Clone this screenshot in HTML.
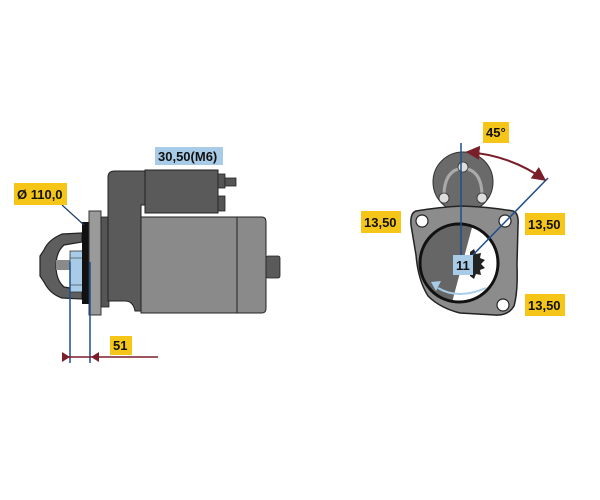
<!DOCTYPE html>
<html><head><meta charset="utf-8"><style>
html,body{margin:0;padding:0;background:#fff;width:600px;height:500px;overflow:hidden}
text{font-family:"Liberation Sans",Arial,sans-serif;font-weight:bold;font-size:13px;fill:#111}
</style></head><body>
<svg width="600" height="500" viewBox="0 0 600 500" xmlns="http://www.w3.org/2000/svg">
<defs>
<marker id="ar" viewBox="0 0 10 10" refX="9" refY="5" markerWidth="7" markerHeight="7" orient="auto-start-reverse"><path d="M0,0 L10,5 L0,10 z" fill="#7a1f2a"/></marker>
</defs>
<!-- LEFT VIEW -->
<path d="M82,233 L62,234 Q48,240 44,250 L40,256 L40,276 L44,282 Q50,294 62,298 L82,299 L82,290 L64,287 Q56,280 56,266 Q56,252 64,245 L82,242 Z" fill="#5e5e5e" stroke="#222" stroke-width="1.2"/>
<rect x="56" y="260" width="16" height="10" fill="#8a8a8a"/>
<rect x="70" y="251" width="13" height="41" fill="#a8cce8" stroke="#333" stroke-width="0.8"/>
<line x1="70" y1="258" x2="83" y2="258" stroke="#333" stroke-width="0.6"/>
<line x1="70" y1="285" x2="83" y2="285" stroke="#333" stroke-width="0.6"/>
<rect x="82" y="222" width="7" height="82" fill="#111"/>
<rect x="89" y="211" width="12" height="104" fill="#9a9a9a" stroke="#333" stroke-width="1"/>
<rect x="101" y="217" width="8" height="90" fill="#555" stroke="#222" stroke-width="0.8"/>
<path d="M108,177 Q108,171 115,171 L145,171 L145,205 L141,205 L141,311 L135,311 Q133,301 125,301 L108,301 Z" fill="#5a5a5a" stroke="#222" stroke-width="1"/>
<rect x="145" y="170" width="73" height="43" fill="#5a5a5a" stroke="#222" stroke-width="1"/>
<rect x="218" y="174" width="7" height="14" fill="#555" stroke="#222" stroke-width="0.8"/>
<rect x="225" y="178" width="11" height="8" fill="#555" stroke="#222" stroke-width="0.8"/>
<rect x="218" y="196" width="7" height="15" fill="#555" stroke="#222" stroke-width="0.8"/>
<rect x="141" y="217" width="96" height="96" fill="#8a8a8a" stroke="#222" stroke-width="1"/>
<path d="M237,217 L262,217 Q266,217 266,222 L266,308 Q266,313 262,313 L237,313 Z" fill="#8a8a8a" stroke="#222" stroke-width="1"/>
<rect x="266" y="256" width="14" height="22" rx="2" fill="#5a5a5a" stroke="#222" stroke-width="0.8"/>
<line x1="70" y1="262" x2="70" y2="363" stroke="#1d4f8a" stroke-width="1.5"/>
<line x1="90" y1="262" x2="90" y2="363" stroke="#1d4f8a" stroke-width="1.5"/>
<line x1="62" y1="205" x2="84" y2="225" stroke="#1d3f6a" stroke-width="1.2"/>
<line x1="63" y1="357" x2="158" y2="357" stroke="#7a1f2a" stroke-width="1.5"/>
<path d="M62,352 L70,357 L62,362 z" fill="#7a1f2a"/>
<path d="M99,352 L91,357 L99,362 z" fill="#7a1f2a"/>
<rect x="110" y="336" width="22" height="19" fill="#f5c518"/><text x="113" y="350">51</text>
<rect x="14" y="183" width="53" height="22" fill="#f5c518"/><text x="17" y="199">Ø 110,0</text>
<rect x="155" y="147" width="68" height="18" fill="#a8cce8"/><text x="158" y="161">30,50(M6)</text>
<!-- RIGHT VIEW -->
<circle cx="463" cy="182" r="30" fill="#6a6a6a" stroke="#333" stroke-width="1"/>
<path d="M444,196 Q444,170 463,168 Q482,170 482,196" fill="none" stroke="#aaa" stroke-width="3"/>
<circle cx="463" cy="167" r="5" fill="#ddd" stroke="#333" stroke-width="0.8"/>
<circle cx="444" cy="198" r="5" fill="#ddd" stroke="#333" stroke-width="0.8"/>
<circle cx="482" cy="198" r="5" fill="#ddd" stroke="#333" stroke-width="0.8"/>
<path d="M416,211 Q440,207 462,206 Q490,207 513,211 Q519,213 518,225 L517,265 Q518,292 514,306 Q508,316 495,315 L460,313 Q440,308 428,296 Q418,280 416,255 L411,225 Q410,213 416,211 Z" fill="#8c8c8c" stroke="#222" stroke-width="1.5"/>
<circle cx="422" cy="221" r="6" fill="#fff" stroke="#222" stroke-width="1.2"/>
<circle cx="505" cy="221" r="6" fill="#fff" stroke="#222" stroke-width="1.2"/>
<circle cx="503" cy="305" r="6" fill="#fff" stroke="#222" stroke-width="1.2"/>
<circle cx="459" cy="263" r="39" fill="#fff"/>
<clipPath id="cc"><circle cx="459" cy="263" r="39"/></clipPath>
<polygon points="415,220 474,220 450,310 415,310" fill="#666" clip-path="url(#cc)"/>
<circle cx="459" cy="263" r="39" fill="none" stroke="#111" stroke-width="3"/>
<path d="M470,252 l4,-3 l2,5 l5,-1 l-1,5 l5,2 l-4,4 l4,4 l-5,2 l1,5 l-5,-1 l-2,5 l-4,-3 Z" fill="#222"/>
<path d="M438,288 Q458,300 486,288" fill="none" stroke="#a8cce8" stroke-width="2"/>
<path d="M431,282 L441,281 L436,291 z" fill="#a8cce8"/>
<line x1="461" y1="143" x2="461" y2="260" stroke="#1d4f8a" stroke-width="1.5"/>
<line x1="548" y1="178" x2="468" y2="260" stroke="#1d4f8a" stroke-width="1.5"/>
<path d="M467,152 Q510,155 545,180" fill="none" stroke="#7a1f2a" stroke-width="2" marker-start="url(#ar)" marker-end="url(#ar)"/>
<rect x="453" y="255" width="20" height="20" fill="#a8cce8"/><text x="456" y="270">11</text>
<rect x="483" y="122" width="26" height="21" fill="#f5c518"/><text x="486" y="137">45°</text>
<rect x="361" y="211" width="40" height="22" fill="#f5c518"/><text x="364" y="227">13,50</text>
<rect x="525" y="213" width="40" height="22" fill="#f5c518"/><text x="528" y="229">13,50</text>
<rect x="525" y="294" width="40" height="22" fill="#f5c518"/><text x="528" y="310">13,50</text>
</svg>
</body></html>
